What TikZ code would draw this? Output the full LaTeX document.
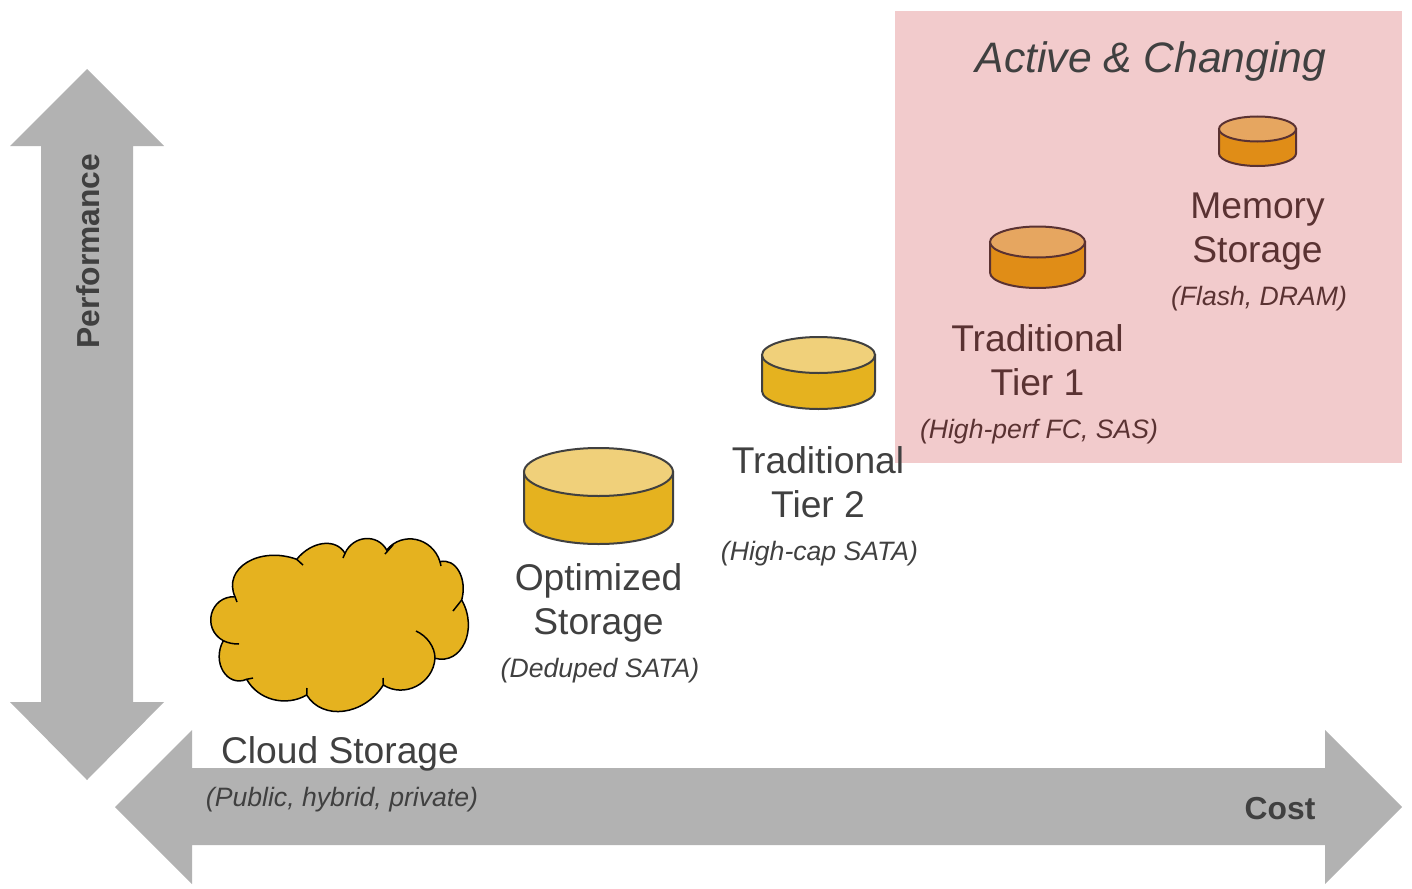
\documentclass[tikz,border=0pt]{standalone}
\usepackage{fontspec}
\setmainfont{Liberation Sans}
\usetikzlibrary{calc}
\definecolor{arrowgray}{HTML}{B2B2B2}
\definecolor{activepink}{HTML}{F2CBCC}
\definecolor{gold}{HTML}{E5B21F}
\definecolor{goldtop}{HTML}{F0D07A}
\definecolor{amber}{HTML}{E08D17}
\definecolor{ambertop}{HTML}{E6A660}
\definecolor{darktext}{HTML}{404040}
\definecolor{browntext}{HTML}{5A3232}
\tikzset{
  bigarrow/.style={fill=arrowgray,draw=none},
  maintext/.style={font=\fontsize{37.2}{44}\selectfont,align=center,text=darktext,inner sep=0pt},
  subtext/.style={font=\fontsize{26.6}{30}\selectfont\itshape,text=darktext,inner sep=0pt},
  axistext/.style={font=\fontsize{31.8}{36}\selectfont\bfseries,text=darktext,inner sep=0pt},
  cloudline/.style={draw=black,line width=1.5pt}
}
\newcommand{\storagedisk}[7]{
  \begin{scope}[shift={#1}]
    \draw[line width=2pt,draw=#7,fill=#5] (-#2,0) -- ++(0,#4) arc[start angle=180,end angle=0,x radius=#2,y radius=#3] -- (#2,0) -- cycle;
    \draw[line width=2pt,draw=#7,fill=#6] (0,0) ellipse[x radius=#2,y radius=#3];
  \end{scope}
}
\newcommand{\lobe}[4]{.. controls ($ {.333-#4}*#1+1.333*#2+{#4-.667}*#3 $) and ($ {.333-#4}*#3+1.333*#2+{#4-.667}*#1 $) .. #3}
\begin{document}
\begin{tikzpicture}[x=1pt,y=-1pt]
  \useasboundingbox (0,0) rectangle (1412,888);
  \fill[activepink] (895,11) rectangle (1402,463);
  % axes
  \fill[bigarrow] (87,69) -- (164,146) -- (133,146) -- (133,702) -- (164,702) -- (87,780)
    -- (10,702) -- (41,702) -- (41,146) -- (10,146) -- cycle;
  \fill[bigarrow] (115,807) -- (192,730) -- (192,768) -- (1325,768) -- (1325,730) -- (1402,807)
    -- (1325,884) -- (1325,845) -- (192,845) -- (192,884) -- cycle;
  \node[axistext,rotate=90] (performance) at (88,251) {Performance};
  \node[axistext] (cost) at (1280,809) {Cost};
  % cloud
  \path[cloudline,fill=gold] (235,596.7)
    \lobe{(235,596.7)}{(247.3,562.7)}{(296.7,559.3)}{.2}
    \lobe{(296.7,559.3)}{(323.3,544)}{(345,553.3)}{.25}
    \lobe{(345,553.3)}{(365.7,539)}{(386.7,550)}{.21}
    \lobe{(386.7,550)}{(416.7,540)}{(440,561.7)}{.22}
    \lobe{(440,561.7)}{(459.3,571.7)}{(461.7,600)}{.23}
    \lobe{(461.7,600)}{(465,643.3)}{(435,658.3)}{.19}
    \lobe{(435,658.3)}{(416.7,686.7)}{(383.3,685)}{.22}
    \lobe{(383.3,685)}{(344,711.7)}{(306.7,695)}{.23}
    \lobe{(306.7,695)}{(273.3,700)}{(246.7,679.3)}{.27}
    \lobe{(246.7,679.3)}{(223.3,671.7)}{(223.3,640.7)}{.17}
    \lobe{(223.3,640.7)}{(211.7,614.3)}{(235,596.7)}{.13} -- cycle;
  \draw[cloudline] (296.7,559.3) -- (303,565);
  \draw[cloudline] (345,553.3) -- (343,558);
  \draw[cloudline] (393,545) -- (385,554);
  \draw[cloudline] (440,561.7) -- (441,566);
  \draw[cloudline] (461.7,600) -- (453,611);
  \draw[cloudline] (435,658.3) .. controls (435,647) and (427,636) .. (416,631);
  \draw[cloudline] (383.3,685) -- (383,678);
  \draw[cloudline] (306.7,695) -- (307,688);
  \draw[cloudline] (246.7,679.3) -- (253,678);
  \draw[cloudline] (223.3,640.7) .. controls (228,643) and (233,644) .. (239,644);
  \draw[cloudline] (235,596.7) -- (237,602);
  % disks
  \storagedisk{(598.5,472)}{74.5}{24}{48}{gold}{goldtop}{darktext}
  \storagedisk{(818.5,355)}{56.5}{18}{36}{gold}{goldtop}{darktext}
  \storagedisk{(1037.5,242)}{47.5}{15.5}{30.5}{amber}{ambertop}{browntext}
  \storagedisk{(1257.5,129)}{38.5}{12.5}{24.5}{amber}{ambertop}{browntext}
  % labels
  \node[maintext] (cloudlabel) at (340,754) {Cloud Storage};
  \node[subtext] (cloudsub) at (342,800) {(Public, hybrid, private)};
  \node[maintext] (optimizedlabel) at (598.5,603) {Optimized\\Storage};
  \node[subtext] (optimizedsub) at (600,671) {(Deduped SATA)};
  \node[maintext] (tiertwolabel) at (818,482) {Traditional\\Tier 2};
  \node[subtext] (tiertwosub) at (819.5,554) {(High-cap SATA)};
  \node[maintext,text=browntext] (tieronelabel) at (1037.5,360) {Traditional\\Tier 1};
  \node[subtext,text=browntext] (tieronesub) at (1039,432) {(High-perf FC, SAS)};
  \node[maintext,text=browntext] (memorylabel) at (1257.5,232) {Memory\\Storage};
  \node[subtext,text=browntext] (memorysub) at (1259,299) {(Flash, DRAM)};
  \node[font=\fontsize{42.6}{48}\selectfont\itshape,text=darktext,inner sep=0pt] (activetitle) at (1151,61) {Active \& Changing};
\end{tikzpicture}
\end{document}
